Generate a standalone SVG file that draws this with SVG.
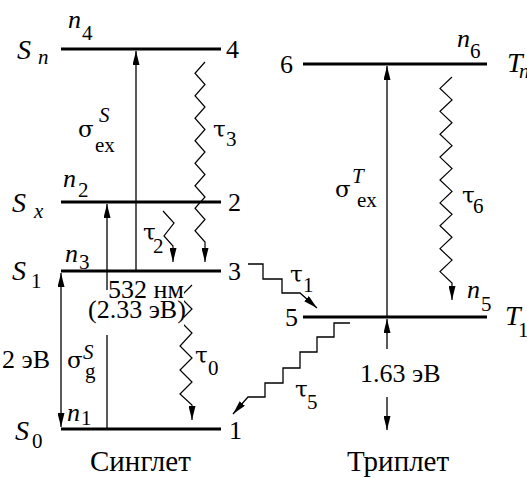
<svg xmlns="http://www.w3.org/2000/svg" width="527" height="478" viewBox="0 0 527 478">
<defs>
<marker id="ah" markerUnits="userSpaceOnUse" markerWidth="15" markerHeight="7" refX="14" refY="3.5" orient="auto-start-reverse">
<path d="M0,0 L14,3.5 L0,7 z" fill="#000"/>
</marker>
</defs>

<g id="S_n">
<line stroke="#000" stroke-width="3" x1="61" y1="49" x2="221" y2="49"/>
<text font-family="Liberation Serif" font-size="28" font-style="italic" x="17" y="59">S</text>
<text font-family="Liberation Serif" font-size="21" font-style="italic" x="38" y="64">n</text>
<text font-family="Liberation Serif" font-size="26" x="226" y="58">4</text>
<text font-family="Liberation Serif" font-size="26" font-style="italic" x="68" y="28">n</text>
<text font-family="Liberation Serif" font-size="21" x="82" y="40">4</text>
</g>
<g id="S_x">
<line stroke="#000" stroke-width="3" x1="61" y1="202" x2="221" y2="202"/>
<text font-family="Liberation Serif" font-size="28" font-style="italic" x="12" y="212">S</text>
<text font-family="Liberation Serif" font-size="21" font-style="italic" x="34" y="218">x</text>
<text font-family="Liberation Serif" font-size="26" x="228" y="211">2</text>
<text font-family="Liberation Serif" font-size="26" font-style="italic" x="63" y="187">n</text>
<text font-family="Liberation Serif" font-size="21" x="78" y="197">2</text>
</g>
<g id="S_1">
<line stroke="#000" stroke-width="3" x1="61" y1="271" x2="221" y2="271"/>
<text font-family="Liberation Serif" font-size="28" font-style="italic" x="12" y="280">S</text>
<text font-family="Liberation Serif" font-size="21" x="31" y="288">1</text>
<text font-family="Liberation Serif" font-size="26" x="228" y="280">3</text>
<text font-family="Liberation Serif" font-size="26" font-style="italic" x="65" y="262">n</text>
<text font-family="Liberation Serif" font-size="21" x="79" y="269">3</text>
</g>
<g id="S_0">
<line stroke="#000" stroke-width="3" x1="61" y1="429" x2="221" y2="429"/>
<text font-family="Liberation Serif" font-size="28" font-style="italic" x="15" y="440">S</text>
<text font-family="Liberation Serif" font-size="21" x="32" y="448">0</text>
<text font-family="Liberation Serif" font-size="26" x="229" y="439">1</text>
<text font-family="Liberation Serif" font-size="26" font-style="italic" x="67" y="421">n</text>
<text font-family="Liberation Serif" font-size="21" x="81" y="425">1</text>
</g>
<g id="T_n">
<line stroke="#000" stroke-width="3" x1="303" y1="64" x2="487" y2="64"/>
<text font-family="Liberation Serif" font-size="26" x="280" y="73">6</text>
<text font-family="Liberation Serif" font-size="28" font-style="italic" x="507" y="72">T</text>
<text font-family="Liberation Serif" font-size="21" font-style="italic" x="519" y="78">n</text>
<text font-family="Liberation Serif" font-size="26" font-style="italic" x="457" y="47">n</text>
<text font-family="Liberation Serif" font-size="21" x="470" y="58">6</text>
</g>
<g id="T_1">
<line stroke="#000" stroke-width="3" x1="303" y1="317" x2="487" y2="317"/>
<text font-family="Liberation Serif" font-size="26" x="285" y="326">5</text>
<text font-family="Liberation Serif" font-size="28" font-style="italic" x="505" y="325">T</text>
<text font-family="Liberation Serif" font-size="21" x="518" y="337">1</text>
<text font-family="Liberation Serif" font-size="26" font-style="italic" x="467" y="298">n</text>
<text font-family="Liberation Serif" font-size="21" x="481" y="311">5</text>
</g>

<g id="connectors" stroke="#000" stroke-width="1.3" fill="none">
<line x1="136" y1="271" x2="136" y2="51" marker-end="url(#ah)"/>
<line x1="107" y1="429" x2="107" y2="204" marker-end="url(#ah)"/>
<line x1="61" y1="273" x2="61" y2="427" marker-start="url(#ah)" marker-end="url(#ah)"/>
<path stroke-width="1.2" d="M205,62 L195,73.25 L205,84.5 L195,95.75 L205,107 L195,118.25 L205,129.5 L195,140.75 L205,152 L195,163.25 L205,174.5 L195,185.75 L205,197 L195,208.25 L205,219.5 L195,230.75 L205,242 L205,262" marker-end="url(#ah)"/>
<path stroke-width="1.2" d="M163,211 L174,223 L164,236 L173,246 L173,262" marker-end="url(#ah)"/>
<path stroke-width="1.2" d="M192,285 L180,297 L192,309 L180,321 L192,333 L180,346 L192,358 L180,370 L192,382 L180,394 L192,405 L192,420" marker-end="url(#ah)"/>
<path d="M248,264 H263 V279 H282 V293 H300 L317,308" marker-end="url(#ah)"/>
<path d="M350,323 H334 V337 H317 V352 H300 V368 H283 V383 H265 V397 H248 L233,414" marker-end="url(#ah)"/>
<line x1="387" y1="317" x2="387" y2="66" marker-end="url(#ah)"/>
<path stroke-width="1.2" d="M452,77 L440,88.44 L452,99.89 L440,111.33 L452,122.78 L440,134.22 L452,145.67 L440,157.11 L452,168.56 L440,180 L452,191.44 L440,202.89 L452,214.33 L440,225.78 L452,237.22 L440,248.67 L452,260.11 L440,271.56 L452,283 L452,300" marker-end="url(#ah)"/>
<line x1="387" y1="349" x2="387" y2="319" marker-end="url(#ah)"/>
<line x1="387" y1="397" x2="387" y2="430" marker-end="url(#ah)"/>
</g>

<g id="labels">
<rect fill="#fff" x="109" y="276" width="75" height="14"/>
<rect fill="#fff" x="86" y="290" width="98" height="45"/>
<text font-family="Liberation Serif" font-size="26" x="108" y="298">532 нм</text>
<text font-family="Liberation Serif" font-size="26" x="88" y="318">(2.33 эВ)</text>
<text font-family="DejaVu Serif" font-size="23" x="78" y="137">σ</text>
<text font-family="Liberation Serif" font-size="21" font-style="italic" x="99" y="122">S</text>
<text font-family="Liberation Serif" font-size="21" x="95" y="152">ex</text>
<text font-family="DejaVu Serif" font-size="23" x="213" y="137">τ</text>
<text font-family="Liberation Serif" font-size="21" x="226" y="146">3</text>
<text font-family="DejaVu Serif" font-size="23" x="143" y="240">τ</text>
<text font-family="Liberation Serif" font-size="21" x="153" y="253">2</text>
<text font-family="DejaVu Serif" font-size="23" x="195" y="363">τ</text>
<text font-family="Liberation Serif" font-size="21" x="208" y="375">0</text>
<text font-family="DejaVu Serif" font-size="23" x="290" y="282">τ</text>
<text font-family="Liberation Serif" font-size="21" x="303" y="292">1</text>
<text font-family="DejaVu Serif" font-size="23" x="295" y="397">τ</text>
<text font-family="Liberation Serif" font-size="21" x="307" y="409">5</text>
<text font-family="DejaVu Serif" font-size="23" x="462" y="203">τ</text>
<text font-family="Liberation Serif" font-size="21" x="473" y="213">6</text>
<text font-family="DejaVu Serif" font-size="23" x="335" y="197">σ</text>
<text font-family="Liberation Serif" font-size="21" font-style="italic" x="352" y="183">T</text>
<text font-family="Liberation Serif" font-size="21" x="357" y="207">ex</text>
<text font-family="DejaVu Serif" font-size="23" x="67" y="368">σ</text>
<text font-family="Liberation Serif" font-size="21" font-style="italic" x="83" y="359">S</text>
<text font-family="Liberation Serif" font-size="21" x="85" y="378">g</text>
<text font-family="Liberation Serif" font-size="26" x="2" y="368">2 эВ</text>
<text font-family="Liberation Serif" font-size="26" x="360" y="382">1.63 эВ</text>
<text font-family="Liberation Serif" font-size="29" x="90" y="471">Синглет</text>
<text font-family="Liberation Serif" font-size="29" x="347" y="471">Триплет</text>
</g>
</svg>
